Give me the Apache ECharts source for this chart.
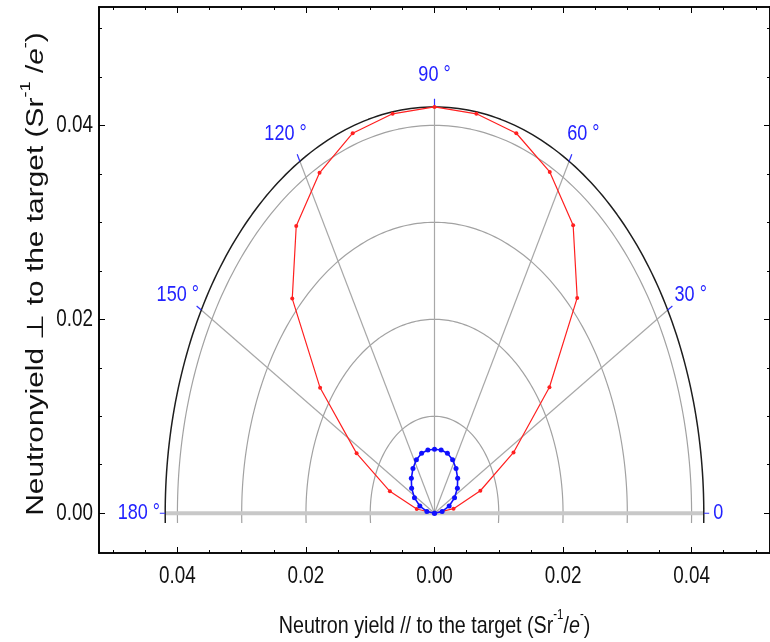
<!DOCTYPE html>
<html>
<head>
<meta charset="utf-8">
<title>Neutron yield angular distribution</title>
<script src="https://cdn.jsdelivr.net/npm/echarts@6/dist/echarts.min.js"></script>
<style>
  html, body { margin: 0; padding: 0; background: #ffffff; }
  #chart { width: 770px; height: 642px; }
</style>
</head>
<body>
<div id="chart"></div>
<script>
// Emission angle of every measured point, degrees (0 = parallel to the target)
const angles = [0, 9, 18, 27, 36, 45, 54, 63, 72, 81, 90, 99, 108, 117, 126, 135, 144, 153, 162, 171, 180];
// Neutron yield per steradian per electron, red curve
const yieldRed = [0, 0.0030, 0.0075, 0.0138, 0.0221, 0.0314, 0.0367, 0.0395, 0.0412, 0.0417, 0.0419,
                  0.0417, 0.0412, 0.0394, 0.0366, 0.0313, 0.0220, 0.0136, 0.0073, 0.0028, 0];
// Neutron yield per steradian per electron, blue curve
const yieldBlue = [0, 0.0012, 0.0024, 0.0035, 0.0044, 0.0051, 0.0057, 0.0062, 0.0065, 0.0066, 0.0066,
                   0.0066, 0.0065, 0.0062, 0.0057, 0.0051, 0.0044, 0.0035, 0.0024, 0.0012, 0];

// Polar grid
const ringRadii = [0.01, 0.02, 0.03, 0.04];
const spokeAngles = [0, 30, 60, 90, 120, 150, 180];
const spokeLabels = ['0', '30 °', '60 °', '90 °', '120 °', '150 °', '180 °'];

// Frame ticks
const xMajorTicks = [-0.04, -0.02, 0, 0.02, 0.04];
const xMinorTicks = [-0.05, -0.045, -0.035, -0.03, -0.025, -0.015, -0.01, -0.005,
                     0.005, 0.01, 0.015, 0.025, 0.03, 0.035, 0.045, 0.05];
const yMajorTicks = [0, 0.02, 0.04];
const yMinorTicks = [0.005, 0.01, 0.015, 0.025, 0.03, 0.035, 0.045, 0.05];

const xTitle = '{b|Neutron yield // to the target (Sr}{sup|-1}{b|/}{it|e}{sup|-}{b|)}';
const yTitle = '{b|Neutronyield \u22a5 to the target (Sr}{sup|-1}{b| /}{it|e}{sup|-}{b|)}';

const X_MIN = -0.0522, X_MAX = 0.0522, Y_MIN = -0.0041, Y_MAX = 0.0522;
const GRID = { left: 99, top: 7, width: 672, height: 546 };

// Narrow face: Liberation Sans squeezed to Arial Narrow proportions
const SANS = "'Liberation Sans', Arial, sans-serif";
const NARROW_SCALE = 0.82;
const TALL_SCALE = 1.3;
const LABEL_BLUE = '#2222ff';
const INK = '#111111';

const rad = d => d * Math.PI / 180;
const polar = (deg, r) => [r * Math.cos(rad(deg)), r * Math.sin(rad(deg))];

const outerRadius = Math.max(...yieldRed);
const tickEnd = outerRadius * 1.02;

// Arcs are clipped a little below the 0–180 line
const arcPoints = r => {
  const a0 = -Math.asin(Math.min(1, 0.001 / r)) * 180 / Math.PI;
  const pts = [];
  for (let a = a0; a <= 180 - a0 + 1e-9; a += (180 - 2 * a0) / 180) pts.push(polar(a, r));
  return pts;
};

const series = [];
const lineBase = { type: 'line', showSymbol: false, symbol: 'none', silent: true, animation: false,
                   xAxisIndex: 0, yAxisIndex: 0 };

ringRadii.forEach(r => series.push(Object.assign({}, lineBase, {
  data: arcPoints(r), lineStyle: { color: '#a2a2a2', width: 1.2 }, z: 1
})));

series.push(Object.assign({}, lineBase, {
  data: arcPoints(outerRadius), lineStyle: { color: '#1e1e1e', width: 1.5 }, z: 2
}));

// 0°–180° base line
series.push(Object.assign({}, lineBase, {
  data: [polar(180, outerRadius), polar(0, outerRadius)],
  lineStyle: { color: '#c8c8c8', width: 4 }, z: 1
}));

spokeAngles.forEach(a => {
  if (a !== 0 && a !== 180) {
    series.push(Object.assign({}, lineBase, {
      data: [[0, 0], polar(a, outerRadius)], lineStyle: { color: '#a8a8a8', width: 1.2 }, z: 1
    }));
  }
  series.push(Object.assign({}, lineBase, {
    data: [polar(a, outerRadius), polar(a, tickEnd)], lineStyle: { color: '#3030ff', width: 1.2 }, z: 3
  }));
});

series.push({
  type: 'line', name: 'red', animation: false, z: 5,
  data: angles.map((a, i) => polar(a, yieldRed[i])),
  symbol: 'circle', symbolSize: 4, showSymbol: true,
  lineStyle: { color: '#ff2020', width: 1.2 }, itemStyle: { color: '#ff2020' }
});
series.push({
  type: 'line', name: 'blue', animation: false, z: 6,
  data: angles.map((a, i) => polar(a, yieldBlue[i])),
  symbol: 'circle', symbolSize: 5, showSymbol: true,
  lineStyle: { color: '#1010ff', width: 1.6 }, itemStyle: { color: '#1010ff' }
});

const titleRich = size => ({
  b: { fontSize: size, fontFamily: SANS, fill: INK, color: INK, lineHeight: size + 6, verticalAlign: 'bottom' },
  sup: { fontSize: Math.round(size * 0.6), fontFamily: SANS, fill: INK, color: INK, lineHeight: size + 6, verticalAlign: 'top' },
  it: { fontSize: size, fontFamily: SANS, fontStyle: 'italic', fill: INK, color: INK, lineHeight: size + 6, verticalAlign: 'bottom' }
});

const frameAxis = (dim, pos, ticks, len) => ({
  type: 'value', position: pos,
  min: dim === 'x' ? X_MIN : Y_MIN, max: dim === 'x' ? X_MAX : Y_MAX,
  axisLine: { show: true, onZero: false, lineStyle: { color: '#000', width: 1.6 } },
  axisTick: { show: true, inside: true, length: len, customValues: ticks, lineStyle: { color: '#000', width: 1 } },
  axisLabel: { show: false },
  splitLine: { show: false }, minorTick: { show: false }
});

const option = {
  backgroundColor: '#ffffff',
  animation: false,
  grid: Object.assign({ containLabel: false }, GRID),
  xAxis: [
    frameAxis('x', 'bottom', xMajorTicks, 6),
    frameAxis('x', 'bottom', xMinorTicks, 3),
    frameAxis('x', 'top', xMajorTicks, 6),
    frameAxis('x', 'top', xMinorTicks, 3)
  ],
  yAxis: [
    frameAxis('y', 'left', yMajorTicks, 6),
    frameAxis('y', 'left', yMinorTicks, 3),
    frameAxis('y', 'right', yMajorTicks, 6),
    frameAxis('y', 'right', yMinorTicks, 3)
  ],
  series: series
};

const chart = echarts.init(document.getElementById('chart'), null, { renderer: 'canvas' });
chart.setOption(option);

// Texts: tick labels, titles and spoke labels, placed through the axes
const toPx = p => chart.convertToPixel({ xAxisIndex: 0, yAxisIndex: 0 }, p);
const textEl = (x, y, text, size, color, align, vAlign, extra) => Object.assign({
  type: 'text', x: x, y: y, scaleX: NARROW_SCALE, silent: true, z: 10,
  style: { text: text, fontSize: size, fontFamily: SANS, fill: color, align: align, verticalAlign: vAlign }
}, extra || {});
const fmt = v => Math.abs(v).toFixed(2);

const gridBottom = GRID.top + GRID.height;
const graphics = [];
xMajorTicks.forEach(v => {
  const p = toPx([v, 0]);
  graphics.push(textEl(p[0], gridBottom + 24, fmt(v), 23, INK, 'center', 'middle'));
});
yMajorTicks.forEach(v => {
  const p = toPx([0, v]);
  graphics.push(textEl(GRID.left - 6, p[1], fmt(v), 23, INK, 'right', 'middle'));
});

const xTitleEl = textEl(toPx([0, 0])[0], gridBottom + 70, xTitle, 24, INK, 'center', 'middle');
xTitleEl.style.rich = titleRich(24);
graphics.push(xTitleEl);

const yTitleEl = textEl(34, GRID.top + GRID.height / 2 - 6, yTitle, 23, INK, 'center', 'middle',
                        { rotation: Math.PI / 2, scaleX: TALL_SCALE });
yTitleEl.style.rich = titleRich(23);
graphics.push(yTitleEl);

const measure = document.createElement('canvas').getContext('2d');
measure.font = '22px ' + SANS;
spokeAngles.forEach((a, i) => {
  const w = measure.measureText(spokeLabels[i]).width * NARROW_SCALE;
  const c = Math.cos(rad(a)), s = Math.sin(rad(a));
  const d = 4 + Math.sqrt(Math.pow(c * w / 2 * (c < 0 ? 0.8 : 1), 2) + Math.pow(s * 20, 2));
  const p = toPx(polar(a, tickEnd));
  graphics.push(textEl(p[0] + c * d, p[1] - s * d, spokeLabels[i], 22, LABEL_BLUE, 'center', 'middle'));
});
chart.setOption({ graphic: graphics });
</script>
</body>
</html>
